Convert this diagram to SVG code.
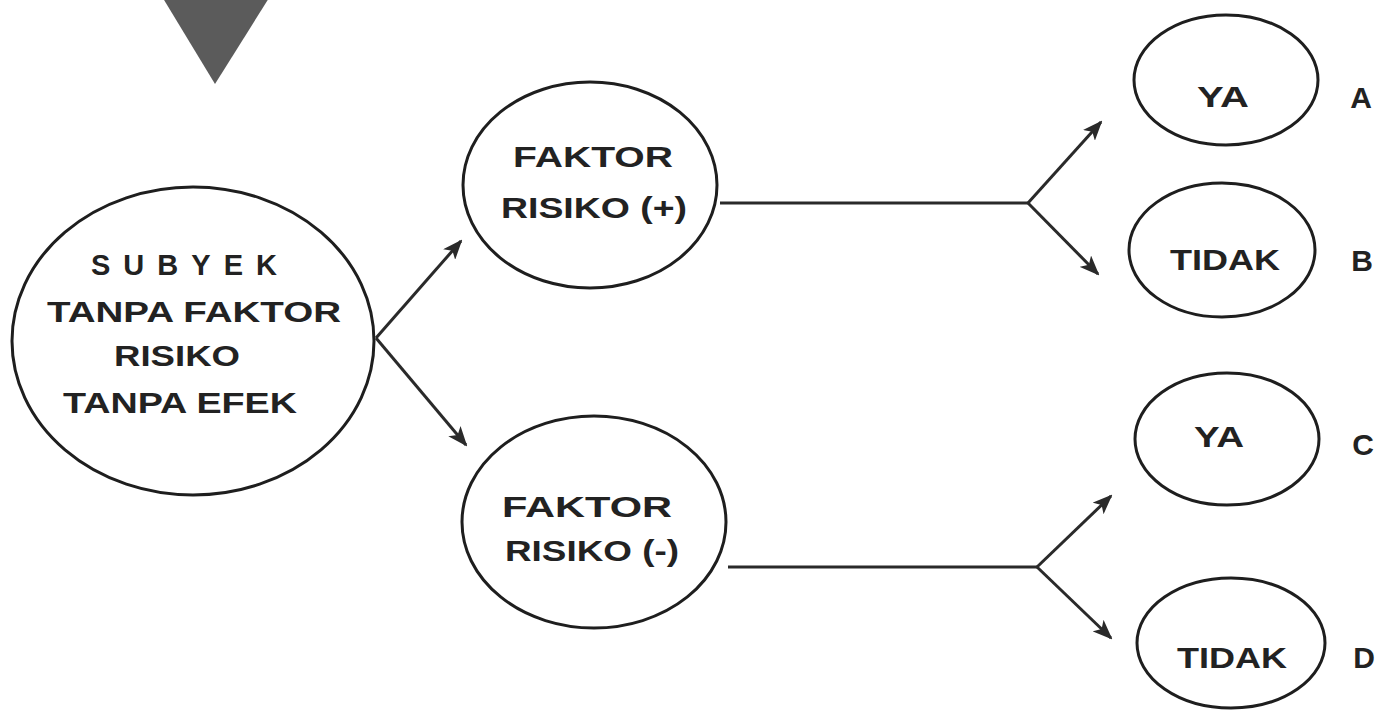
<svg xmlns="http://www.w3.org/2000/svg" width="1393" height="714" viewBox="0 0 1393 714">
  <defs>
    <style>
      .node { fill: #ffffff; stroke: #1e1e1e; stroke-width: 3; }
      .lbl { font-family: "Liberation Sans", Arial, sans-serif; font-size: 29px; font-weight: bold; fill: #222222; text-anchor: middle; }
      .tag { font-family: "Liberation Sans", Arial, sans-serif; font-size: 30px; font-weight: bold; fill: #222222; text-anchor: middle; }
      .wire { fill: none; stroke: #2a2a2a; stroke-width: 3; }
      .arrow { fill: none; stroke: #2a2a2a; stroke-width: 3; marker-end: url(#head); }
    </style>
    <marker id="head" viewBox="0 0 20 16" refX="18" refY="8" markerWidth="20" markerHeight="16" markerUnits="userSpaceOnUse" orient="auto">
      <path d="M0,0 L20,8 L0,16 L5,8 Z" fill="#2a2a2a"/>
    </marker>
  </defs>

  <rect width="1393" height="714" fill="#ffffff"/>

  <!-- downward pointer at the top -->
  <polygon points="158,-10 274,-10 215,84" fill="#5b5b5b"/>

  <!-- connectors -->
  <g id="connectors">
    <line class="arrow" x1="376" y1="338" x2="461" y2="241"/>
    <line class="arrow" x1="376" y1="338" x2="466" y2="445"/>
    <polyline class="wire" points="720,203 1028,203"/>
    <line class="arrow" x1="1028" y1="203" x2="1101" y2="122"/>
    <line class="arrow" x1="1028" y1="203" x2="1098" y2="274"/>
    <polyline class="wire" points="728,567 1037,567"/>
    <line class="arrow" x1="1037" y1="567" x2="1111" y2="496"/>
    <line class="arrow" x1="1037" y1="567" x2="1111" y2="638"/>
  </g>

  <!-- subject -->
  <g id="subyek">
    <ellipse class="node" cx="193" cy="341" rx="181" ry="154"/>
    <text class="lbl" x="184" y="275" textLength="186" lengthAdjust="spacing">SUBYEK</text>
    <text class="lbl" x="194" y="322" textLength="294" lengthAdjust="spacingAndGlyphs">TANPA FAKTOR</text>
    <text class="lbl" x="177" y="366" textLength="126" lengthAdjust="spacingAndGlyphs">RISIKO</text>
    <text class="lbl" x="180" y="413" textLength="234" lengthAdjust="spacingAndGlyphs">TANPA EFEK</text>
  </g>

  <!-- risk factor present -->
  <g id="faktor-plus">
    <ellipse class="node" cx="590" cy="185" rx="127" ry="103"/>
    <text class="lbl" x="593" y="167" textLength="160" lengthAdjust="spacingAndGlyphs">FAKTOR</text>
    <text class="lbl" x="594" y="218" textLength="186" lengthAdjust="spacingAndGlyphs">RISIKO (+)</text>
  </g>

  <!-- risk factor absent -->
  <g id="faktor-minus">
    <ellipse class="node" cx="594" cy="522" rx="132" ry="106"/>
    <text class="lbl" x="587" y="517" textLength="170" lengthAdjust="spacingAndGlyphs">FAKTOR</text>
    <text class="lbl" x="592" y="561" textLength="174" lengthAdjust="spacingAndGlyphs">RISIKO (-)</text>
  </g>

  <!-- outcomes -->
  <g id="ya-a">
    <ellipse class="node" cx="1226" cy="80" rx="92" ry="65"/>
    <text class="lbl" x="1223" y="107" textLength="52" lengthAdjust="spacingAndGlyphs">YA</text>
    <text class="tag" x="1361" y="108">A</text>
  </g>
  <g id="tidak-b">
    <ellipse class="node" cx="1222" cy="250" rx="93" ry="67"/>
    <text class="lbl" x="1225" y="270" textLength="110" lengthAdjust="spacingAndGlyphs">TIDAK</text>
    <text class="tag" x="1362" y="271">B</text>
  </g>
  <g id="ya-c">
    <ellipse class="node" cx="1227" cy="439" rx="92" ry="66"/>
    <text class="lbl" x="1219" y="447" textLength="50" lengthAdjust="spacingAndGlyphs">YA</text>
    <text class="tag" x="1363" y="455">C</text>
  </g>
  <g id="tidak-d">
    <ellipse class="node" cx="1231" cy="643" rx="94" ry="65"/>
    <text class="lbl" x="1232" y="668" textLength="110" lengthAdjust="spacingAndGlyphs">TIDAK</text>
    <text class="tag" x="1364" y="668">D</text>
  </g>
</svg>
